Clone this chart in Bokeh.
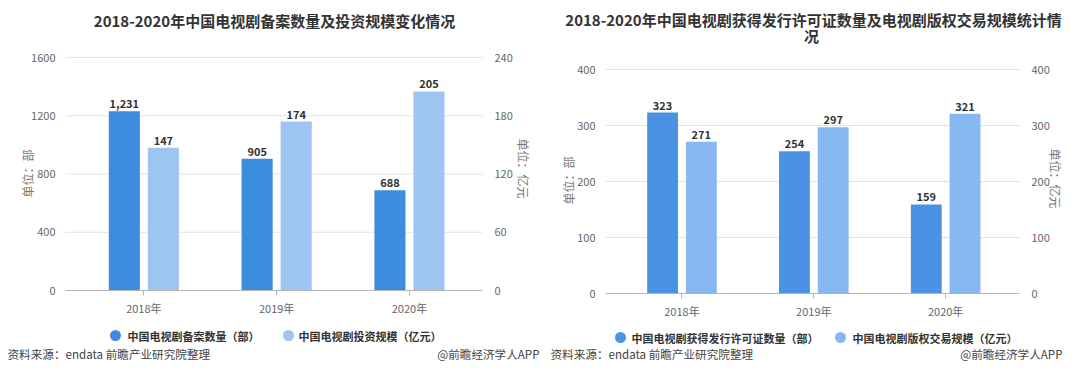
import math
from bokeh.plotting import figure
from bokeh.models import Range1d, LinearAxis, FixedTicker, ColumnDataSource
from bokeh.layouts import row
from bokeh.embed import file_html
from bokeh.resources import INLINE
from bokeh.core.properties import value

FONT = "Noto Sans CJK SC"

# ---------------- data ----------------
years = ["2018年", "2019年", "2020年"]

c1_title = "2018-2020年中国电视剧备案数量及投资规模变化情况"
c1_count_name = "中国电视剧备案数量（部）"
c1_invest_name = "中国电视剧投资规模（亿元）"
c1_count = [1231, 905, 688]
c1_invest = [147, 174, 205]
c1_left_ticks = [0, 400, 800, 1200, 1600]
c1_right_ticks = [0, 60, 120, 180, 240]

c2_title_1 = "2018-2020年中国电视剧获得发行许可证数量及电视剧版权交易规模统计情"
c2_title_2 = "况"
c2_count_name = "中国电视剧获得发行许可证数量（部）"
c2_trade_name = "中国电视剧版权交易规模（亿元）"
c2_count = [323, 254, 159]
c2_trade = [271, 297, 321]
c2_left_ticks = [0, 100, 200, 300, 400]
c2_right_ticks = [0, 100, 200, 300, 400]

left_unit = "单位：部"
right_unit = "单位：亿元"
source_note = "资料来源：endata 前瞻产业研究院整理"
credit = "@前瞻经济学人APP"

H = 364
TICK_COLOR = "#666666"
TEXT_COLOR = "#333333"


def make_panel(Wp, frame, xr, a_vals, b_vals, lt, rt, dark, light):
    fl, fr, ft, fb = frame          # pixel box of the plotting area (gridlines)
    kx = (fr - fl) / (xr[1] - xr[0])
    ky = (fb - ft) / (lt[-1] - lt[0])
    kr = (fb - ft) / (rt[-1] - rt[0])
    p = figure(width=Wp, height=H, output_backend="svg", toolbar_location=None,
               title=None, tools="", x_axis_type=None, y_axis_type=None,
               x_range=Range1d(xr[0] - fl / kx, xr[1] + (Wp - fr) / kx),
               y_range=Range1d(lt[0] - (H - fb) / ky, lt[-1] + ft / ky),
               min_border=0, min_border_left=0, min_border_right=0,
               min_border_top=0, min_border_bottom=0)
    p.outline_line_color = None
    p.background_fill_color = "white"
    p.border_fill_color = "white"
    p.extra_y_ranges = {"r": Range1d(rt[0] - (H - fb) / kr, rt[-1] + ft / kr),
                        "py": Range1d(H, 0)}
    p.extra_x_ranges = {"px": Range1d(0, Wp)}

    # gridlines
    p.segment(x0=xr[0], x1=xr[1], y0="y", y1="y",
              source=ColumnDataSource(dict(y=lt[1:])),
              line_color="#e3e3e3", line_width=1)

    xs = list(range(len(years)))
    off = 0.147
    bw = 0.234
    sa = ColumnDataSource(dict(x=[x - off for x in xs], y=a_vals,
                               t=[f"{v:,}" for v in a_vals]))
    sb = ColumnDataSource(dict(x=[x + off for x in xs], y=b_vals,
                               t=[f"{v:,}" for v in b_vals]))
    p.vbar(x="x", top="y", width=bw, bottom=0, source=sa, fill_color=dark, line_color=None)
    p.vbar(x="x", top="y", width=bw, bottom=0, source=sb, fill_color=light,
           line_color=None, y_range_name="r")
    for s, rn in ((sa, "default"), (sb, "r")):
        p.text(x="x", y="y", text="t", source=s, y_range_name=rn,
               text_font=value(FONT), text_font_size="11px", text_font_style="bold",
               text_color=TEXT_COLOR, text_align="center", text_baseline="bottom",
               y_offset=-3)

    # axes (fixed inside the canvas)
    xa = LinearAxis(ticker=FixedTicker(ticks=xs), fixed_location=lt[0],
                    bounds=(xr[0], xr[1]))
    xa.major_label_overrides = {i: y for i, y in enumerate(years)}
    xa.axis_line_color = "#b5b5b5"
    xa.major_tick_line_color = "#b5b5b5"
    xa.major_tick_out = 5
    xa.major_tick_in = 0
    xa.minor_tick_line_color = None
    xa.major_label_standoff = 4
    xa.major_label_text_font = FONT
    xa.major_label_text_font_size = "11px"
    xa.major_label_text_color = TICK_COLOR
    p.add_layout(xa, "below")

    ya = LinearAxis(ticker=FixedTicker(ticks=lt), fixed_location=xr[0])
    ra = LinearAxis(ticker=FixedTicker(ticks=rt), fixed_location=xr[1], y_range_name="r")
    for ax, so in ((ya, 4), (ra, 6)):
        ax.axis_line_color = None
        ax.major_tick_line_color = None
        ax.minor_tick_line_color = None
        ax.major_label_standoff = so
        ax.major_label_text_font = FONT
        ax.major_label_text_font_size = "11px"
        ax.major_label_text_color = TICK_COLOR
    p.add_layout(ya, "left")
    p.add_layout(ra, "right")
    return p


def txt(p, x, y, text, size, color, bold=False, align="left", angle=0.0):
    p.text(x=[x], y=[y], text=[text], x_range_name="px", y_range_name="py",
           text_font=value(FONT), text_font_size=f"{size}px", text_color=color,
           text_font_style="bold" if bold else "normal", text_align=align,
           text_baseline="middle", angle=angle)


def dot(p, x, y, color):
    p.scatter(x=[x], y=[y], x_range_name="px", y_range_name="py", size=11,
              marker="circle", fill_color=color, line_color=None)


# ---------------- panel 1 ----------------
D1, L1 = "#3c8ddf", "#9ec4f2"
p1 = make_panel(540, (65, 482, 57, 290), (-0.59, 2.55), c1_count, c1_invest,
                c1_left_ticks, c1_right_ticks, D1, L1)
txt(p1, 274, 20, c1_title, 15, TEXT_COLOR, bold=True, align="center")
txt(p1, 27, 173, left_unit, 12, "#777777", align="center", angle=math.pi / 2)
txt(p1, 523, 168, right_unit, 12, "#777777", align="center", angle=-math.pi / 2)
dot(p1, 115, 335, D1)
txt(p1, 127, 335, c1_count_name, 11, TEXT_COLOR, bold=True)
dot(p1, 288, 335, L1)
txt(p1, 298, 335, c1_invest_name, 11, TEXT_COLOR, bold=True)
txt(p1, 7, 353, source_note, 11.6, "#444444")
txt(p1, 539, 353, credit, 11.6, "#444444", align="right")

# ---------------- panel 2 ----------------
D2, L2 = "#4a93e4", "#88b8f2"
p2 = make_panel(524, (65, 479, 69, 293), (-0.58, 2.56), c2_count, c2_trade,
                c2_left_ticks, c2_right_ticks, D2, L2)
txt(p2, 273, 19, c2_title_1, 15, TEXT_COLOR, bold=True, align="center")
txt(p2, 271, 34.5, c2_title_2, 15, TEXT_COLOR, bold=True, align="center")
txt(p2, 28, 180, left_unit, 12, "#777777", align="center", angle=math.pi / 2)
txt(p2, 515, 178, right_unit, 12, "#777777", align="center", angle=-math.pi / 2)
dot(p2, 80, 337, D2)
txt(p2, 91, 337, c2_count_name, 11, TEXT_COLOR, bold=True)
dot(p2, 300, 337, L2)
txt(p2, 312, 337, c2_trade_name, 11, TEXT_COLOR, bold=True)
txt(p2, 10, 353, source_note, 11.6, "#444444")
txt(p2, 522, 353, credit, 11.6, "#444444", align="right")

layout = row(p1, p2, spacing=0)
open("out.html", "w").write(file_html(layout, INLINE))
